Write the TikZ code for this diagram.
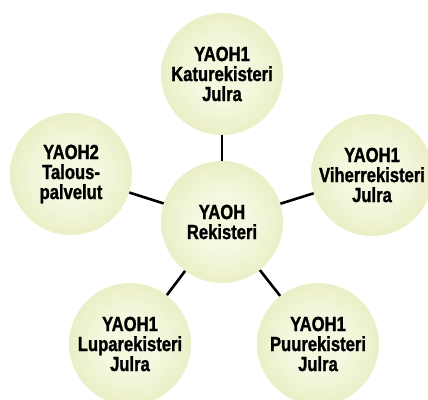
\documentclass[tikz,border=0pt]{standalone}
\usepackage{fontspec}
\setmainfont{Liberation Sans}[FakeStretch=0.81,FakeBold=1.2]
\definecolor{ballin}{HTML}{F5F7DF}
\definecolor{ballout}{HTML}{D8E097}
\pgfdeclareradialshading{ball}{\pgfpoint{0bp}{0bp}}{color(0bp)=(ballin); color(12bp)=(ballin); color(50bp)=(ballout); color(100bp)=(ballout)}
\tikzset{
  ballnode/.style={circle, shading=ball, minimum size=122pt, inner sep=0pt,
    align=center, font=\bfseries\fontsize{20.5}{20}\selectfont, text=black},
  link/.style={line width=2.6pt, draw=black}
}
\begin{document}
\begin{tikzpicture}[x=1pt,y=-1pt]
\useasboundingbox (0,0) rectangle (428,399);
\node[ballnode] (c) at (222,222) {YAOH\\Rekisteri};
\node[ballnode] (t) at (222,74) {YAOH1\\Katurekisteri\\Julra};
\node[ballnode] (l) at (71,174) {YAOH2\\Talous-\\palvelut};
\node[ballnode] (r) at (372,175) {YAOH1\\Viherrekisteri\\Julra};
\node[ballnode] (bl) at (130,344) {YAOH1\\Luparekisteri\\Julra};
\node[ballnode] (br) at (318,344) {YAOH1\\Puurekisteri\\Julra};
\draw[link] (c) -- (t);
\draw[link] (c) -- (l);
\draw[link] (c) -- (r);
\draw[link] (c) -- (bl);
\draw[link] (c) -- (br);
\end{tikzpicture}
\end{document}
